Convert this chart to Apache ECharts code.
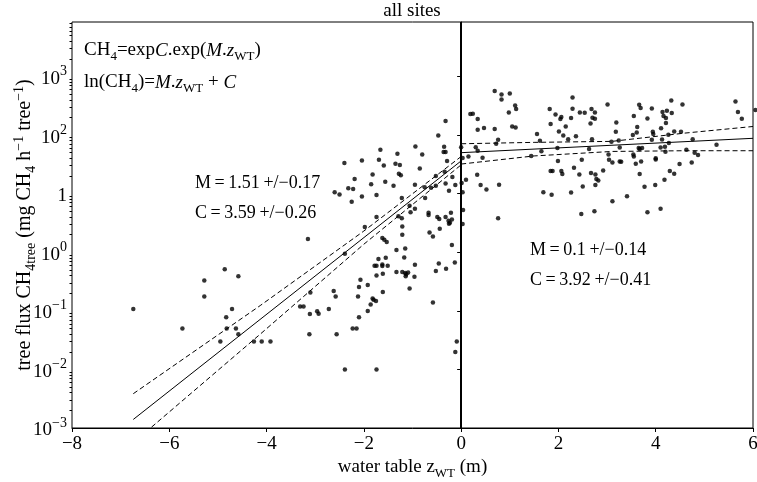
<!DOCTYPE html>
<html>
<head>
<meta charset="utf-8">
<script src="https://cdn.jsdelivr.net/npm/echarts@6/dist/echarts.min.js"></script>
<style>
html, body { margin: 0; padding: 0; background: #fff; }
#main { width: 757px; height: 482px; }
</style>
</head>
<body>
<div id="main"></div>
<script>
// water table depth (m) and tree CH4 flux
const waterTable = [
  -6.74, -5.73, -5.28, -5.28, -4.86, -4.58, -4.71, -4.83, -4.82, -4.63,
  -4.58, -4.95, -4.26, -4.10, -3.92, -3.15, -3.31, -3.24, -3.10, -3.11,
  -2.96, -2.93, -3.12, -2.72, -2.62, -2.58, -2.56, -2.39, -2.39, -2.40,
  -2.60, -2.50, -2.32, -2.22, -2.25, -2.19, -2.04, -2.04, -1.98, -2.23,
  -2.15, -2.10, -2.12, -2.10, -2.07, -1.92, -1.92, -1.86, -1.82, -1.80,
  -1.75, -1.74, -1.61, -1.85, -1.82, -1.74, -1.74, -1.69, -1.66, -1.59,
  -1.56, -1.62, -1.58, -1.53, -1.70, -1.78, -1.74, -1.62, -1.62, -1.55,
  -1.51, -1.74, -1.61, -1.39, -1.35, -1.31, -1.28, -1.24, -1.26, -1.33,
  -1.33, -1.29, -1.22, -1.22, -1.21, -1.21, -1.21, -1.15, -1.13, -1.09,
  -1.14, -1.17, -1.15, -1.06, -1.06, -1.04, -0.94, -0.95, -0.95, -0.96,
  -0.95, -0.85, -0.80, -0.75, -0.74, -0.67, -0.67, -0.65, -0.58, -0.58,
  -0.62, -0.52, -0.46, -0.52, -0.52, -0.47, -0.44, -0.49, -0.45, -0.34,
  -0.36, -0.32, -0.35, -0.32, -0.29, -0.32, -0.32, -0.25, -0.26, -0.23,
  -0.19, -0.25, -0.21, -0.31, -0.19, -0.13, -0.18, -0.12, -0.09, -0.12,
  0.00, 0.03, 0.01, 0.03, 0.04, 0.03, 0.10, 0.15, 0.19, 0.24,
  0.34, 0.34, 0.47, 0.30, 0.34, 0.44, 0.33, 0.40, 0.52, 0.76,
  0.78, 0.69, 0.72, 0.76, 0.69, 0.83, 0.83, 1.00, 0.98, 1.11,
  1.13, 1.05, 1.12, 1.44, 1.56, 1.62, 1.65, 1.69, 1.86, 1.82,
  1.84, 1.94, 2.01, 2.04, 2.06, 1.98, 1.99, 1.84, 1.88, 2.06,
  2.08, 2.10, 2.15, 2.20, 2.26, 2.29, 2.29, 2.36, 2.26, 2.32,
  2.43, 2.44, 2.54, 2.48, 2.50, 2.47, 2.63, 2.66, 2.68, 2.75,
  2.70, 2.75, 2.69, 2.67, 2.76, 2.76, 2.78, 2.82, 2.74, 2.92,
  3.01, 3.03, 3.04, 3.11, 3.26, 3.29, 3.11, 3.09, 3.18, 3.19,
  3.24, 3.26, 3.41, 3.54, 3.55, 3.55, 3.53, 3.59, 3.61, 3.62,
  3.66, 3.69, 3.65, 3.67, 3.67, 3.70, 3.72, 3.77, 3.83, 3.83,
  3.92, 3.94, 3.95, 3.92, 3.99, 4.00, 4.00, 4.10, 4.10, 4.11,
  4.13, 4.14, 4.16, 4.18, 4.19, 4.20, 4.21, 4.21, 4.23, 4.26,
  4.27, 4.29, 4.32, 4.33, 4.38, 4.38, 4.49, 4.52, 4.55, 4.63,
  4.74, 4.76, 4.80, 4.87, 5.25, 5.64, 5.69, 5.77, 6.05
]
const treeFlux = [
  0.107, 0.050, 0.33, 0.176, 0.51, 0.39, 0.107, 0.078, 0.050, 0.050,
  0.040, 0.030, 0.030, 0.030, 0.030, 1.68, 0.119, 0.119, 0.206, 0.088,
  0.098, 0.089, 0.040, 0.107, 0.218, 0.176, 0.040, 0.010, 0.94, 33.3,
  10.6, 9.7, 12.3, 12.0, 7.3, 17.7, 36.9, 8.9, 2.69, 0.050,
  0.050, 0.078, 0.176, 0.255, 0.34, 0.275, 0.099, 0.128, 0.163, 0.155,
  0.147, 0.010, 0.21, 14.4, 21.3, 9.5, 4.0, 37.9, 56.1, 30.3,
  16.0, 1.75, 1.63, 1.49, 0.77, 0.59, 0.59, 0.62, 0.58, 0.805,
  0.59, 0.40, 0.43, 13.6, 32.4, 48, 21.9, 20.5, 30.8, 1.09,
  0.46, 4.1, 3.8, 8.4, 2.75, 1.99, 0.46, 0.44, 0.42, 0.45,
  0.39, 0.81, 1.16, 0.24, 6.2, 4.8, 63.9, 14.2, 5.5, 0.38,
  0.61, 26.9, 46.7, 12.8, 8.4, 4.3, 4.7, 2.18, 1.86, 0.139,
  12.6, 0.48, 0.64, 13.6, 20.0, 98, 2.52, 4.0, 3.7, 23.6,
  51.3, 51.3, 63, 173, 36, 14.9, 4.0, 11.2, 3.45, 3.19,
  3.63, 3.06, 4.7, 0.52, 1.33, 0.67, 19.2, 14.0, 0.030, 0.0198,
  62, 40.5, 15.2, 10.6, 5.25, 3.03, 17.3, 43, 228, 231,
  188, 123, 132, 62, 54, 41, 21, 14.0, 11.8, 3.8,
  14.2, 127, 71, 83, 563, 493, 405, 513, 243, 320,
  278, 140, 135, 44, 104, 80, 53, 10.6, 9.6, 278,
  154, 225, 115, 188, 203, 60, 36, 24.3, 24.3, 24.3,
  21.6, 98, 140, 85, 195, 438, 281, 95, 10.5, 27.7,
  21.3, 243, 240, 37.9, 13.3, 4.5, 57.7, 158, 278, 243,
  197, 190, 85, 22.5, 21.3, 14.0, 17.7, 16.8, 5.0, 24.9,
  333, 46.7, 37.9, 34, 35.4, 35, 7.4, 77, 114, 164,
  81, 61, 9.0, 46.7, 43, 211, 100, 32.4, 111, 137,
  329, 289, 60, 57.7, 21.6, 35.4, 60, 13.1, 192, 4.8,
  284, 114, 104, 83, 14.0, 40, 38.4, 61, 5.5, 130,
  84, 247, 211, 17.3, 63, 51.9, 195, 160, 260, 101,
  73, 24.3, 389, 237, 115, 21.9, 32, 114, 333, 56.1,
  34, 85, 49.9, 45.6, 68, 374, 247, 190, 267
]

// fitted lines (solid) and their bands (dashed), z < 0 and z > 0
const fitLeftX = [-6.74, 0]
const fitLeftY = [0.0014, 36.2]
const bandLeftX = [-6.74, -4.13, -2.0, 0]
const bandLeftHi = [0.00385, 0.123, 2.3, 43]
const bandLeftLo = [0.00056, 0.040, 1.37, 31]
const fitRightX = [0, 6]
const fitRightY = [50, 88]
const bandRightX = [0, 1.5, 3.1, 4.6, 6]
const bandRightHi = [71, 75, 78, 108, 140]
const bandRightLo = [32, 44, 52.5, 54, 54]

// axis ticks and their labels as printed
const xTicks = [-8, -6, -4, -2, 0, 2, 4, 6]
const yTicks = [0.001, 0.01, 0.1, 1, 10, 100, 1000]
const yTickBase = ['10', '10', '10', '10', '1', '10', '10']
const yTickExp = ['\u22123', '\u22122', '\u22121', '0', '', '2', '3']

const FONT = 'Liberation Serif'
const FS = 19
const FS_SMALL = 13

// minor ticks of the log axis (2..9 within each decade)
const yMinor = []
for (let d = -3; d <= 3; d++) {
    for (let k = 2; k <= 9; k++) {
        const v = k * Math.pow(10, d)
        if (v < 8500) yMinor.push(v)
    }
}

const pair = (xs, ys) => xs.map((x, i) => [x, ys[i]])

// normal / italic / subscript / superscript pieces for rich text
const makeRich = (fs, fsSmall, lh) => ({
    n: { fontFamily: FONT, fontSize: fs, color: '#000', lineHeight: lh, verticalAlign: 'middle' },
    i: { fontFamily: FONT, fontSize: fs, fontStyle: 'italic', color: '#000', lineHeight: lh, verticalAlign: 'middle' },
    s: { fontFamily: FONT, fontSize: fsSmall, color: '#000', lineHeight: lh, verticalAlign: 'bottom' },
    e: { fontFamily: FONT, fontSize: fsSmall, color: '#000', lineHeight: lh, verticalAlign: 'top' }
})
const richText = makeRich(FS, FS_SMALL, 26)

const chart = echarts.init(document.getElementById('main'))
const option = {
    animation: false,
    backgroundColor: '#fff',
    grid: {
        left: 72, right: 4, top: 22, bottom: 54,
        outerBoundsMode: 'none',
        show: true, borderColor: '#000', borderWidth: 1, backgroundColor: 'transparent'
    },
    xAxis: {
        type: 'value',
        min: -8, max: 6, interval: 2,
        name: '{n|water table z}{s|WT}{n| (m)}',
        nameLocation: 'middle',
        nameGap: 26,
        nameMoveOverlap: false,
        nameTextStyle: { rich: richText },
        axisLine: { onZero: false, lineStyle: { color: '#000', width: 1 } },
        axisTick: { length: 4, lineStyle: { color: '#000' }, customValues: xTicks },
        axisLabel: {
            customValues: xTicks,
            fontFamily: FONT, fontSize: FS, color: '#000', margin: 7,
            formatter: v => String(v).replace('-', '\u2212')
        },
        splitLine: { show: false }
    },
    yAxis: [
        {
            type: 'log', logBase: 10,
            min: 0.001, max: 8500,
            name: '{n|tree flux CH}{s|4tree}{n| (mg CH}{s|4}{n| h}{e|\u22121}{n| tree}{e|\u22121}{n|)}',
            nameLocation: 'middle',
            nameGap: 34,
            nameMoveOverlap: false,
            nameTextStyle: { rich: makeRich(20, 14, 26) },
            axisLine: { show: true, lineStyle: { color: '#000', width: 1 } },
            axisTick: { show: true, length: 4, lineStyle: { color: '#000' }, customValues: yTicks },
            axisLabel: {
                customValues: yTicks,
                margin: 5,
                formatter: v => {
                    const i = yTicks.findIndex(t => Math.abs(Math.log10(t) - Math.log10(v)) < 0.01)
                    if (i < 0) return ''
                    return '{b|' + yTickBase[i] + '}' + (yTickExp[i] ? '{e|' + yTickExp[i] + '}' : '')
                },
                rich: {
                    b: { fontFamily: FONT, fontSize: FS, color: '#000', lineHeight: 24, verticalAlign: 'bottom' },
                    e: { fontFamily: FONT, fontSize: 14, color: '#000', lineHeight: 24, verticalAlign: 'top' }
                }
            },
            splitLine: { show: false }
        },
        {
            // second copy of the axis only for the small ticks
            type: 'log', logBase: 10,
            min: 0.001, max: 8500,
            position: 'left',
            axisLine: { show: false },
            axisTick: { show: true, length: 2.5, lineStyle: { color: '#000' }, customValues: yMinor },
            axisLabel: { show: false },
            splitLine: { show: false }
        }
    ],
    graphic: [
        {
            type: 'text', x: 412, y: 11,
            style: { text: 'all sites', fontFamily: FONT, fontSize: FS, fill: '#000', align: 'center', verticalAlign: 'middle' }
        },
        {
            type: 'text', left: 84, top: 41,
            style: { text: '{n|CH}{s|4}{n|=exp}{i|C}{n|.exp(}{i|M}{n|.}{i|z}{s|WT}{n|)}', rich: richText }
        },
        {
            type: 'text', left: 84, top: 73,
            style: { text: '{n|ln(CH}{s|4}{n|)=}{i|M}{n|.}{i|z}{s|WT}{n| + }{i|C}', rich: richText }
        },
        {
            type: 'text', left: 195, top: 174,
            style: { text: 'M\u2009=\u20091.51\u2009+/\u22120.17', fontFamily: FONT, fontSize: 18, fill: '#000' }
        },
        {
            type: 'text', left: 195, top: 204,
            style: { text: 'C\u2009=\u20093.59\u2009+/\u22120.26', fontFamily: FONT, fontSize: 18, fill: '#000' }
        },
        {
            type: 'text', left: 530, top: 241,
            style: { text: 'M\u2009=\u20090.1\u2009+/\u22120.14', fontFamily: FONT, fontSize: 18, fill: '#000' }
        },
        {
            type: 'text', left: 530, top: 271,
            style: { text: 'C\u2009=\u20093.92\u2009+/\u22120.41', fontFamily: FONT, fontSize: 18, fill: '#000' }
        }
    ],
    series: [
        {
            type: 'scatter',
            data: pair(waterTable, treeFlux),
            symbol: 'circle',
            symbolSize: 4.5,
            clip: false,
            itemStyle: { color: '#000' },
            markLine: {
                silent: true,
                symbol: 'none',
                label: { show: false },
                lineStyle: { color: '#000', type: 'solid', width: 2 },
                data: [{ xAxis: 0 }]
            },
            z: 3
        },
        {
            type: 'line', data: pair(fitLeftX, fitLeftY), showSymbol: false, symbol: 'none',
            lineStyle: { color: '#000', width: 1 }
        },
        {
            type: 'line', data: pair(bandLeftX, bandLeftHi), showSymbol: false, symbol: 'none',
            lineStyle: { color: '#000', width: 1, type: [5, 3] }
        },
        {
            type: 'line', data: pair(bandLeftX, bandLeftLo), showSymbol: false, symbol: 'none',
            lineStyle: { color: '#000', width: 1, type: [5, 3] }
        },
        {
            type: 'line', data: pair(fitRightX, fitRightY), showSymbol: false, symbol: 'none',
            lineStyle: { color: '#000', width: 1 }
        },
        {
            type: 'line', data: pair(bandRightX, bandRightHi), showSymbol: false, symbol: 'none',
            lineStyle: { color: '#000', width: 1, type: [5, 3] }
        },
        {
            type: 'line', data: pair(bandRightX, bandRightLo), showSymbol: false, symbol: 'none',
            lineStyle: { color: '#000', width: 1, type: [5, 3] }
        }
    ]
}
chart.setOption(option)
</script>
</body>
</html>
